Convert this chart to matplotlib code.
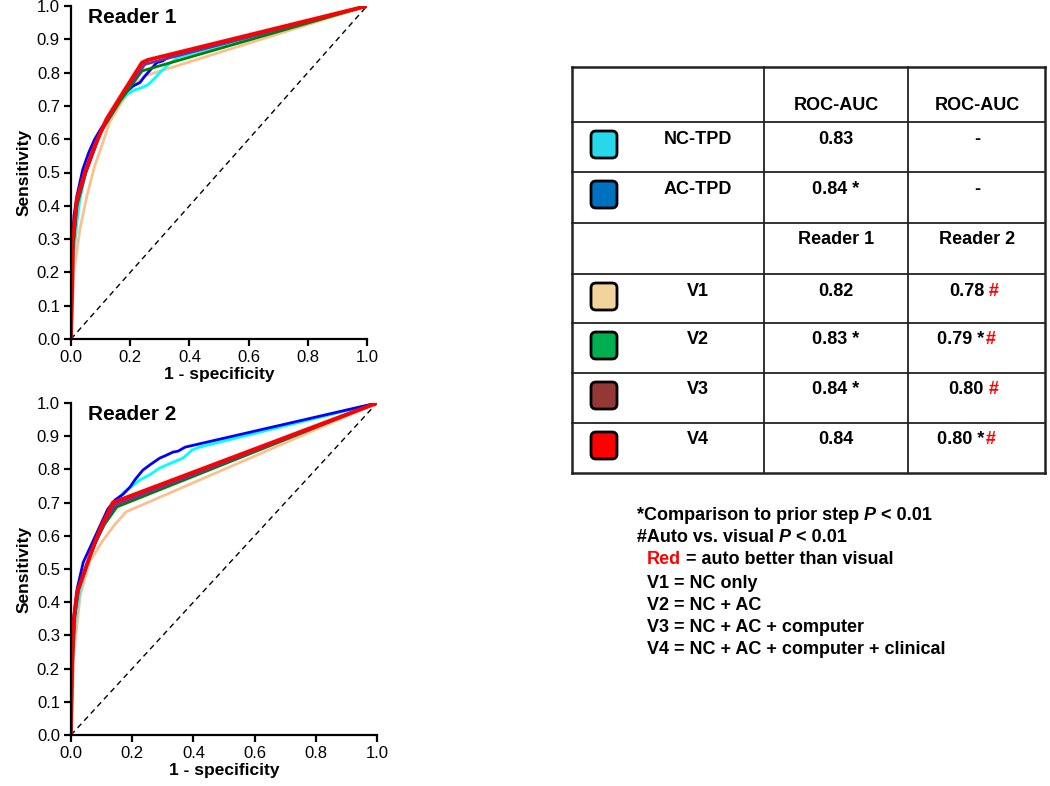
import matplotlib
matplotlib.use("Agg")
import matplotlib.pyplot as plt
from matplotlib.patches import FancyBboxPatch

plt.rcParams['font.family'] = ['Liberation Sans', 'DejaVu Sans']

# ---------------- ROC data, Reader 1 ----------------
r1_nc_x = [0, 0.004, 0.01, 0.02, 0.03, 0.05, 0.07, 0.10, 0.13, 0.16, 0.19, 0.215, 0.24, 0.26, 0.284, 0.30, 0.33, 0.36, 0.40, 1.0]
r1_nc_y = [0, 0.15, 0.26, 0.35, 0.42, 0.50, 0.56, 0.62, 0.67, 0.71, 0.735, 0.748, 0.755, 0.763, 0.784, 0.80, 0.825, 0.845, 0.855, 1.0]
r1_ac_x = [0, 0.002, 0.005, 0.01, 0.02, 0.03, 0.04, 0.06, 0.08, 0.10, 0.13, 0.16, 0.19, 0.21, 0.233, 0.25, 0.27, 0.29, 0.31, 0.33, 0.35, 1.0]
r1_ac_y = [0, 0.20, 0.30, 0.37, 0.43, 0.47, 0.51, 0.56, 0.60, 0.63, 0.67, 0.71, 0.745, 0.76, 0.77, 0.79, 0.81, 0.83, 0.835, 0.847, 0.85, 1.0]
r1_v1_x = [0, 0.01, 0.03, 0.054, 0.08, 0.10, 0.13, 0.17, 0.21, 0.25, 1.0]
r1_v1_y = [0, 0.20, 0.33, 0.43, 0.52, 0.57, 0.65, 0.71, 0.76, 0.79, 1.0]
r1_v2_x = [0, 0.005, 0.02, 0.05, 0.10, 0.17, 0.24, 1.0]
r1_v2_y = [0, 0.25, 0.40, 0.50, 0.62, 0.72, 0.805, 1.0]
r1_v3_x = [0, 0.005, 0.02, 0.05, 0.10, 0.17, 0.25, 1.0]
r1_v3_y = [0, 0.27, 0.41, 0.50, 0.62, 0.73, 0.825, 1.0]
r1_v4_x = [0, 0.007, 0.02, 0.047, 0.08, 0.12, 0.176, 0.24, 0.26, 1.0]
r1_v4_y = [0, 0.30, 0.42, 0.50, 0.58, 0.66, 0.74, 0.83, 0.838, 1.0]

# ---------------- ROC data, Reader 2 ----------------
r2_nc_x = [0, 0.005, 0.015, 0.03, 0.05, 0.08, 0.11, 0.14, 0.17, 0.20, 0.225, 0.26, 0.29, 0.33, 0.366, 0.38, 0.395, 0.42, 1.0]
r2_nc_y = [0, 0.20, 0.35, 0.44, 0.50, 0.58, 0.64, 0.69, 0.729, 0.75, 0.768, 0.785, 0.804, 0.82, 0.834, 0.845, 0.858, 0.867, 1.0]
r2_ac_x = [0, 0.002, 0.008, 0.02, 0.04, 0.07, 0.10, 0.12, 0.144, 0.17, 0.193, 0.21, 0.235, 0.26, 0.29, 0.31, 0.333, 0.35, 0.373, 1.0]
r2_ac_y = [0, 0.20, 0.35, 0.44, 0.52, 0.58, 0.64, 0.68, 0.708, 0.725, 0.747, 0.77, 0.798, 0.815, 0.834, 0.842, 0.852, 0.855, 0.867, 1.0]
r2_v1_x = [0, 0.01, 0.03, 0.06, 0.10, 0.14, 0.18, 1.0]
r2_v1_y = [0, 0.25, 0.42, 0.52, 0.58, 0.63, 0.672, 1.0]
r2_v2_x = [0, 0.004, 0.012, 0.025, 0.05, 0.08, 0.11, 0.15, 1.0]
r2_v2_y = [0, 0.22, 0.36, 0.44, 0.51, 0.58, 0.635, 0.687, 1.0]
r2_v3_x = [0, 0.004, 0.012, 0.025, 0.05, 0.08, 0.11, 0.145, 1.0]
r2_v3_y = [0, 0.22, 0.36, 0.44, 0.51, 0.58, 0.64, 0.693, 1.0]
r2_v4_x = [0, 0.003, 0.01, 0.02, 0.046, 0.072, 0.10, 0.137, 1.0]
r2_v4_y = [0, 0.20, 0.35, 0.43, 0.497, 0.566, 0.63, 0.70, 1.0]

diag = [0, 1]

line_colors = ['#FAC08F', '#00FFFF', '#0000FF', '#008000', '#7030A0', '#FF0000']
line_widths = [2.0, 2.0, 2.0, 2.0, 2.0, 2.8]

# ---------------- table data ----------------
row_names = ['NC-TPD', 'AC-TPD', '', 'V1', 'V2', 'V3', 'V4']
swatch_colors = ['#27D8EA', '#0070C0', None, '#F2D39C', '#00B050', '#953735', '#FF0000']
col2_vals = ['0.83', '0.84 *', 'Reader 1', '0.82', '0.83 *', '0.84 *', '0.84']
col3_vals = ['-', '-', 'Reader 2', '0.78', '0.79 *', '0.80', '0.80 *']
col3_red = ['', '', '', '#', '#', '#', '#']
header = ['', 'ROC-AUC', 'ROC-AUC']

fig = plt.figure(figsize=(10.5, 7.86), dpi=100)

W, H = 1050.0, 786.0
ax1 = fig.add_axes([71 / W, 1 - 339 / H, 296 / W, 333 / H])
ax2 = fig.add_axes([71 / W, 1 - 735 / H, 306 / W, 332 / H])


def roc_panel(ax, series, title):
    ax.plot(diag, diag, color='black', ls=(0, (4, 3)), lw=1.0)
    for (xs, ys), c, lw in zip(series, line_colors, line_widths):
        ax.plot(xs, ys, color=c, lw=lw, solid_joinstyle='round')
    ax.set_xlim(0, 1)
    ax.set_ylim(0, 1)
    ax.set_xticks([0, 0.2, 0.4, 0.6, 0.8, 1.0])
    ax.set_yticks([i / 10 for i in range(11)])
    ax.xaxis.set_major_formatter(plt.FormatStrFormatter('%.1f'))
    ax.yaxis.set_major_formatter(plt.FormatStrFormatter('%.1f'))
    for s in ['top', 'right']:
        ax.spines[s].set_visible(False)
    for s in ['left', 'bottom']:
        ax.spines[s].set_linewidth(1.6)
    ax.tick_params(direction='out', length=5, width=1.6, labelsize=12, pad=3)
    ax.set_xlabel('1 - specificity', fontsize=12.5, fontweight='bold', labelpad=1)
    ax.set_ylabel('Sensitivity', fontsize=12.5, fontweight='bold', labelpad=4)
    ax.text(0.057, 0.995, title, transform=ax.transAxes, fontsize=15,
            fontweight='bold', va='top', ha='left')
    for sp in ax.spines.values():
        sp.set_zorder(5)


roc_panel(ax1, [(r1_v1_x, r1_v1_y), (r1_nc_x, r1_nc_y), (r1_ac_x, r1_ac_y),
                (r1_v2_x, r1_v2_y), (r1_v3_x, r1_v3_y), (r1_v4_x, r1_v4_y)], 'Reader 1')
roc_panel(ax2, [(r2_v1_x, r2_v1_y), (r2_nc_x, r2_nc_y), (r2_ac_x, r2_ac_y),
                (r2_v2_x, r2_v2_y), (r2_v3_x, r2_v3_y), (r2_v4_x, r2_v4_y)], 'Reader 2')

# ---------------- table (pixel coordinates overlay) ----------------
tx = fig.add_axes([0, 0, 1, 1], zorder=-1)
tx.set_xlim(0, W)
tx.set_ylim(H, 0)
tx.axis('off')

col_edges = [572, 764, 908, 1045]
row_edges = [67, 122, 172, 223, 274, 323, 373, 423, 473]
for y in row_edges:
    lw = 1.8 if y in (row_edges[0], row_edges[-1]) else 1.3
    tx.plot([col_edges[0], col_edges[-1]], [y, y], color='#222222', lw=lw)
for x in col_edges:
    lw = 1.8 if x in (col_edges[0], col_edges[-1]) else 1.3
    tx.plot([x, x], [row_edges[0], row_edges[-1]], color='#222222', lw=lw)

name_x = 698
c2_x = 836
c3_x = 977
fs = 13

for i, hd in enumerate(header):
    if hd:
        tx.text([name_x, c2_x, c3_x][i], row_edges[1] - 17, hd, ha='center', va='center',
                fontsize=fs, fontweight='bold')

for i in range(len(row_names)):
    top = row_edges[i + 1]
    ty = top + 17
    if row_names[i]:
        tx.text(name_x, ty, row_names[i], ha='center', va='center', fontsize=fs, fontweight='bold')
    if swatch_colors[i]:
        tx.add_patch(FancyBboxPatch((591, top + 9), 26, 27,
                                    boxstyle='round,pad=0,rounding_size=5',
                                    fc=swatch_colors[i], ec='black', lw=2.0))
    tx.text(c2_x, ty, col2_vals[i], ha='center', va='center', fontsize=fs, fontweight='bold')
    if col3_red[i]:
        t = tx.text(c3_x + 7, ty, col3_vals[i], ha='right', va='center', fontsize=fs,
                    fontweight='bold')
        tx.annotate(col3_red[i], xy=(1, 0), xycoords=t, xytext=(1 if '*' in col3_vals[i] else 3.5, 0),
                    textcoords='offset points', ha='left', va='bottom', fontsize=fs,
                    fontweight='bold', color='red')
    else:
        tx.text(c3_x, ty, col3_vals[i], ha='center', va='center', fontsize=fs, fontweight='bold')

# ---------------- notes ----------------
notes_x = 637
indent_x = 647
note_y = [515, 538, 560, 583, 605, 628, 650]

t = tx.text(notes_x, note_y[0], '*Comparison to prior step', fontsize=fs, fontweight='bold', va='center')
t = tx.annotate('P', xy=(1, 0), xycoords=t, xytext=(3.5, 0), textcoords='offset points',
                ha='left', va='bottom', fontsize=fs, fontweight='bold', style='italic')
tx.annotate('< 0.01', xy=(1, 0), xycoords=t, xytext=(3.5, 0), textcoords='offset points',
            ha='left', va='bottom', fontsize=fs, fontweight='bold')

t = tx.text(notes_x, note_y[1], '#Auto vs. visual', fontsize=fs, fontweight='bold', va='center')
t = tx.annotate('P', xy=(1, 0), xycoords=t, xytext=(3.5, 0), textcoords='offset points',
                ha='left', va='bottom', fontsize=fs, fontweight='bold', style='italic')
tx.annotate('< 0.01', xy=(1, 0), xycoords=t, xytext=(3.5, 0), textcoords='offset points',
            ha='left', va='bottom', fontsize=fs, fontweight='bold')

t = tx.text(indent_x, note_y[2], 'Red', fontsize=fs, fontweight='bold', va='center', color='red')
tx.annotate('= auto better than visual', xy=(1, 0), xycoords=t, xytext=(3.5, 0),
            textcoords='offset points', ha='left', va='bottom', fontsize=fs, fontweight='bold')

legend_lines = ['V1 = NC only', 'V2 = NC + AC', 'V3 = NC + AC + computer',
                'V4 = NC + AC + computer + clinical']
for y, s in zip(note_y[3:], legend_lines):
    tx.text(indent_x, y, s, fontsize=fs, fontweight='bold', va='center')

fig.savefig('out.png', dpi=100)
